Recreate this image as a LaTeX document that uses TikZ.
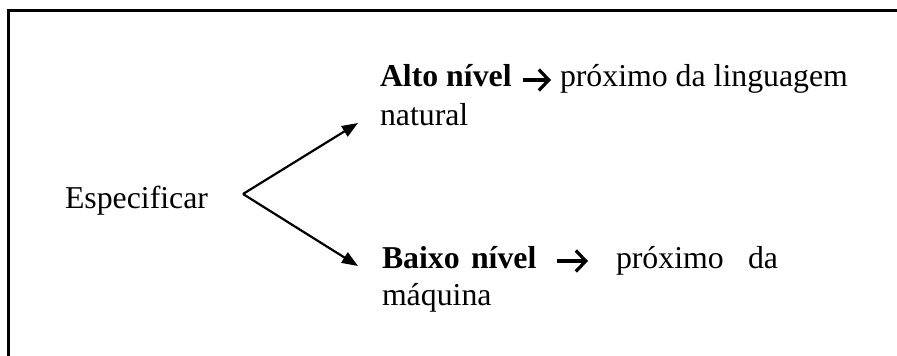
\documentclass[tikz,border=0pt]{standalone}
\usepackage{fontspec}
\setmainfont{Liberation Serif}
\usetikzlibrary{arrows.meta}
\begin{document}
\begin{tikzpicture}[x=1pt,y=-1pt,
  txt/.style={anchor=base west,inner sep=0pt,outer sep=0pt,
    font=\fontsize{31.8}{38}\selectfont},
  frame/.style={line width=2.2pt},
  branch/.style={line width=2.2pt,-{Triangle[length=16pt,width=12pt]}},
  pointer/.style={line width=3.2pt,-{Straight Barb[length=10pt,width=21pt,line width=3.2pt]}}]
\useasboundingbox (0,0) rectangle (897,356);
% open frame: top and left edges
\draw[frame] (8.5,356) -- (8.5,10.5) -- (897,10.5);
% the verb that branches out
\node[txt] (spec) at (65,208) {Especificar};
\coordinate (fork) at (243,194);
\coordinate (hi) at (358,123);
\coordinate (lo) at (358,266);
\draw[branch] (fork) -- (hi);
\draw[branch] (fork) -- (lo);
% high level
\node[txt] (alto) at (380,86.7) {\textbf{Alto nível}};
\coordinate (altoA) at (523,80);
\coordinate (altoB) at (551,80);
\draw[pointer] (altoA) -- (altoB);
\node[txt] (altoT) at (560,86.7) {próximo da linguagem};
\node[txt] (alto2) at (380,125) {natural};
% low level (justified line)
\node[txt] (baixo) at (382,268) {\textbf{Baixo}};
\node[txt] (nivel) at (471,268) {\textbf{nível}};
\coordinate (baixoA) at (557,261);
\coordinate (baixoB) at (588,261);
\draw[pointer] (baixoA) -- (baixoB);
\node[txt] (prox) at (616,268) {próximo};
\node[txt] (da) at (748,268) {da};
\node[txt] (baixo2) at (382,305) {máquina};
\end{tikzpicture}
\end{document}
